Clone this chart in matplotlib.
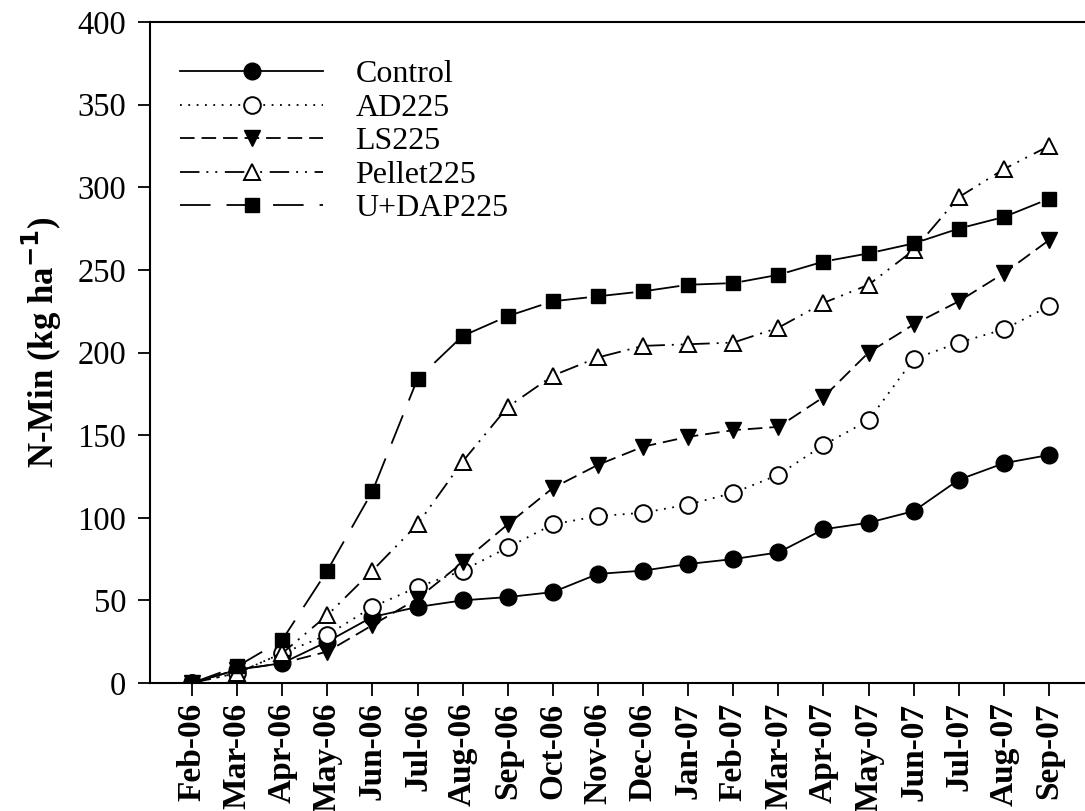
import numpy as np
import matplotlib
matplotlib.use("Agg")
import matplotlib.pyplot as plt

plt.rcParams['font.family'] = ['Liberation Serif', 'DejaVu Serif']
plt.rcParams['lines.scale_dashes'] = False

months = ['Feb-06', 'Mar-06', 'Apr-06', 'May-06', 'Jun-06', 'Jul-06', 'Aug-06',
          'Sep-06', 'Oct-06', 'Nov-06', 'Dec-06', 'Jan-07', 'Feb-07', 'Mar-07',
          'Apr-07', 'May-07', 'Jun-07', 'Jul-07', 'Aug-07', 'Sep-07']

control = [0, 8, 12, 25, 40, 46, 50, 52, 55, 66, 68, 72, 75, 79, 93, 97, 104, 123, 133, 138]
ad225 = [0, 6, 18, 29, 46, 58, 68, 82, 96, 101, 103, 108, 115, 126, 144, 159, 196, 206, 214, 228]
ls225 = [0, 8, 12, 19, 35, 51, 73, 96, 118, 132, 143, 149, 153, 155, 173, 200, 217, 231, 248, 268]
pellet225 = [0, 6, 18, 41, 68, 96, 134, 167, 186, 197, 204, 205, 206, 215, 230, 241, 262, 294, 311, 325]
udap225 = [0, 10, 26, 68, 116, 184, 210, 222, 231, 234, 237, 241, 242, 247, 255, 260, 266, 275, 282, 293]

x = np.arange(len(months))

fig = plt.figure(figsize=(10.85, 8.11), dpi=100)
ax = fig.add_axes([150/1085, (811-683)/811, (1091-150)/1085, (683-22)/811])

lw = 1.3
ax.plot(x, control, color='black', lw=lw, ls='-', marker='o', ms=12,
        mfc='black', mec='black', label='Control')
ax.plot(x, ad225, color='black', lw=lw, ls=(0, (1.3, 4.7)), marker='o', ms=12,
        mfc='white', mec='black', mew=1.4, label='AD225')
ax.plot(x, ls225, color='black', lw=lw, ls=(0, (10.5, 5)), marker='v', ms=12,
        mfc='black', mec='black', label='LS225')
ax.plot(x, pellet225, color='black', lw=lw, ls=(0, (14, 5, 1.4, 5, 1.4, 5.5)), marker='^', ms=12,
        mfc='white', mec='black', mew=1.4, label='Pellet225')
ax.plot(x, udap225, color='black', lw=lw, ls=(0, (22, 11.5)), marker='s', ms=10.5,
        mfc='black', mec='black', label='U+DAP225')

ax.set_xlim(-0.93, 19.93)
ax.set_ylim(0, 400)
ax.set_yticks(np.arange(0, 401, 50))
ax.set_xticks(x)
ax.set_xticklabels(months, rotation=90, fontweight='bold', fontsize=24)
ax.tick_params(axis='y', labelsize=23.5, direction='out', length=9, width=1.3, pad=8)
ax.tick_params(axis='x', direction='out', length=9, width=1.3, pad=5)
ax.spines['right'].set_visible(False)
for s in ['left', 'bottom', 'top']:
    ax.spines[s].set_linewidth(1.5)

ax.set_ylabel('N-Min (kg ha$^{\\mathbf{-1}}$)', fontsize=25, fontweight='bold')
ax.yaxis.set_label_coords(-0.091, 0.515)

ax.legend(loc='upper left', bbox_to_anchor=(0.018, 0.962), frameon=False, fontsize=23,
          handlelength=4.5, handletextpad=1.0, labelspacing=0.13, borderaxespad=0)

fig.savefig('out.png', dpi=100)
